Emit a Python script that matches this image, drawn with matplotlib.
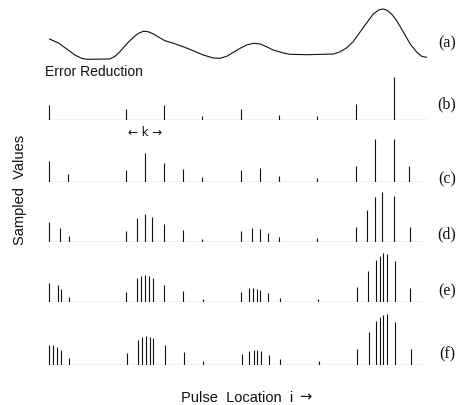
import matplotlib
matplotlib.use("Agg")
import matplotlib.pyplot as plt

# ---- data (pulse location in units where k = 8) ----
curve_x = [0.1, 2.0, 3.7, 5.4, 6.8, 7.9, 12.7, 13.8, 14.8, 16.2, 17.6, 18.7, 19.7, 20.7,
           21.8, 23.2, 24.2, 26.0, 28.0, 30.1, 32.2, 34.3, 35.7, 37.1, 38.5, 39.9, 41.3,
           42.7, 44.1, 45.4, 46.8, 48.9, 50.3, 53.8, 59.4, 60.8, 62.1, 63.5, 64.9, 66.3,
           67.7, 68.8, 69.7, 70.5, 71.5, 72.6, 74.0, 75.4, 76.8, 77.8, 78.8]
curve_y = [22, 18, 12, 6, 2.7, 1.7, 2, 4.7, 9.3, 17, 23.7, 27.7, 29.7, 29.3,
           27, 23, 20.3, 17.7, 14.3, 10.3, 6, 3, 2.7, 4.7, 8.7, 12.7, 16,
           17.7, 17, 14.3, 11, 8, 6.7, 6.3, 7, 9.3, 13, 19.3, 28.7, 38,
           47, 51, 52, 51, 47, 40.3, 28.7, 17, 8.7, 4.7, 3.7]

b_loc = [0, 16, 24, 32, 40, 48, 56, 64, 72]
b_val = [15, 11, 15, 4, 11, 5, 4, 16, 43]

c_loc = [0, 4, 16, 20, 24, 28, 32, 40, 44, 48, 56, 64, 68, 72, 75.2]
c_val = [21, 7.7, 11.7, 28.7, 18.7, 12.7, 4.3, 11.7, 13.7, 5.7, 3.7, 16, 43, 43, 15.7]

d_loc = [0, 2.4, 4.1, 16, 18.3, 20, 21.6, 24, 28, 32, 40, 42.4, 44, 45.7, 48, 56,
         64, 66.4, 68, 69.6, 72, 75.3]
d_val = [19.7, 14.3, 6, 10.7, 24, 27.7, 25.3, 18, 12, 3.3, 10.7, 14, 12.7, 9.3, 4.7, 3.7,
         14.7, 32, 45, 50, 46, 14.7]

e_loc = [0.1, 1.8, 2.5, 4.2, 16.1, 18.4, 19.2, 20, 20.9, 21.7, 24.1, 28, 32.1,
         40.1, 41.7, 42.5, 43.4, 44, 45.7, 48.2, 56.1, 64.2, 66.6, 68.2, 69, 69.8,
         70.5, 72.2, 75.4]
e_val = [19, 17, 13.3, 5, 10, 23.7, 25.7, 27, 25.7, 24.3, 17.3, 10.7, 2.7,
         10.3, 13.7, 14, 13, 12.3, 9, 3.7, 3, 14.7, 31, 42, 46.3, 48.7,
         48, 41.3, 14]

f_loc = [0.1, 0.9, 1.7, 2.6, 4.2, 16.2, 18.5, 19.4, 20.2, 21, 21.8, 24.2, 28.1, 32.2,
         40.2, 41.8, 42.7, 43.5, 44.3, 45.9, 48.2, 56.4, 64.2, 66.7, 68.3, 69.1, 69.8,
         70.5, 72.3, 75.5]
f_val = [20, 20, 18, 14.3, 6.3, 11.3, 25, 27.3, 28.3, 27.3, 26.3, 19.7, 13, 3.7,
         10.3, 14, 15, 15, 13.3, 10, 5.3, 4, 15.7, 33, 44, 47.3, 50,
         50.7, 43, 15.7]

row_labels = ["(a)", "(b)", "(c)", "(d)", "(e)", "(f)"]

# ---- layout (pixel geometry of the reference) ----
W, H = 469, 406
fig = plt.figure(figsize=(W / 100, H / 100), dpi=100)
XL = (-0.835, 79.12)
LEFT, RIGHT = 45, 428

def make_ax(baseline_px, height_px):
    ax = fig.add_axes([LEFT / W, (H - baseline_px) / H, (RIGHT - LEFT) / W, height_px / H])
    ax.set_xlim(*XL)
    ax.set_ylim(0, height_px)
    ax.axis("off")
    return ax

ink = "#111111"

ax_a = make_ax(62, 56)
ax_a.plot(curve_x, curve_y, color=ink, lw=0.8)

rows = [(b_loc, b_val, 121), (c_loc, c_val, 182.7), (d_loc, d_val, 243),
        (e_loc, e_val, 303), (f_loc, f_val, 365.7)]
axes = []
for loc, val, base in rows:
    ax = make_ax(base, 54)
    ax.axhline(0, color="#333333", lw=0.8)
    ax.vlines(loc, 0, val, color=ink, lw=0.8)
    axes.append(ax)

# k marker under row (b)
axes[0].text(20, -11, "\u2190 k \u2192", ha="center", va="center", fontsize=8.5,
             family="DejaVu Sans", color=ink, clip_on=False)

label_y = [43, 104, 179, 234, 291, 354]
for lab, yy in zip(row_labels, label_y):
    fig.text(447 / W, 1 - yy / H, lab, ha="center", va="center", fontsize=11.5,
             family="Liberation Serif", color=ink)

fig.text(45 / W, 1 - 72 / H, "Error Reduction", ha="left", va="center", fontsize=10,
         family="Liberation Sans", color=ink)
fig.text(20 / W, 1 - 190 / H, "Sampled  Values", ha="center", va="center", rotation=90,
         fontsize=10.5, family="Liberation Sans", color=ink)
xlab = fig.text(181 / W, 1 - 398 / H, "Pulse  Location  i", ha="left", va="center",
                fontsize=10.5, family="Liberation Sans", color=ink)
axes[-1].annotate("\u2192", xy=(1, 0.5), xycoords=xlab, xytext=(4, 1),
                  textcoords="offset points", ha="left", va="center",
                  fontsize=10.5, family="DejaVu Sans", color=ink, annotation_clip=False)

fig.savefig("out.png", dpi=100)
